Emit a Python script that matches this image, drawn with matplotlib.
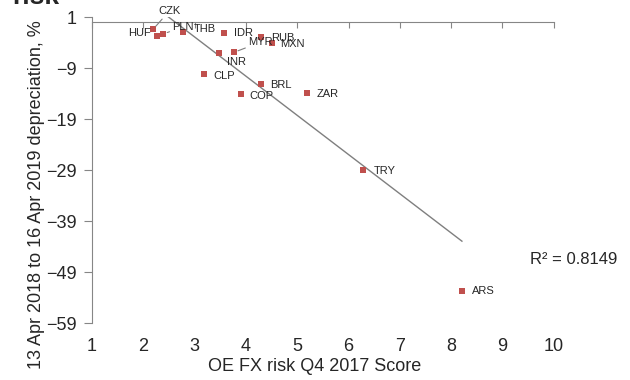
# FX depreciation vs OE FX risk score scatter with linear trend

import numpy as np
import matplotlib.pyplot as plt

plt.rcParams['font.family'] = ['Liberation Sans', 'DejaVu Sans']

currencies = ['HUF', 'CZK', 'PLN', 'THB', 'IDR', 'RUB', 'MXN', 'MYR', 'INR',
              'CLP', 'BRL', 'COP', 'ZAR', 'TRY', 'ARS']
risk_score = [2.27, 2.19, 2.39, 2.78, 3.58, 4.30, 4.50, 3.77, 3.48,
              3.19, 4.30, 3.91, 5.20, 6.29, 8.21]
depreciation = [-2.7, -1.4, -2.3, -1.9, -2.2, -2.9, -4.1, -5.9, -6.1,
                -10.2, -12.1, -14.1, -13.9, -29.0, -52.7]
r_squared = 0.8149

x_ticks = list(range(1, 11))
y_ticks = list(range(1, -60, -10))

# label offsets in pixels: (dx, dy, ha, leader)
label_pos = {
    'HUF': (-6, 3, 'right', False),
    'CZK': (16, 18, 'center', True),
    'PLN': (9, 7, 'left', True),
    'THB': (10, 3, 'left', False),
    'IDR': (10, 0, 'left', False),
    'RUB': (10, -1, 'left', False),
    'MXN': (9, -1, 'left', False),
    'MYR': (14, 10, 'left', True),
    'INR': (8, -9, 'left', False),
    'CLP': (9, -2, 'left', False),
    'BRL': (9, -1, 'left', False),
    'COP': (8, -2, 'left', False),
    'ZAR': (9, -1, 'left', False),
    'TRY': (10, -1, 'left', False),
    'ARS': (10, 0, 'left', False),
}

text_col = '#262626'
axis_col = '#868686'

fig = plt.figure(figsize=(6.3, 3.8), dpi=100)
ax = fig.add_axes([0.146, 0.15, 0.733, 0.805])

x = np.array(risk_score)
y = np.array(depreciation)
slope, intercept = np.polyfit(x, y, 1)
xs = np.array([x.min(), x.max()])
ax.plot(xs, slope * xs + intercept, color='#7f7f7f', lw=1.0, zorder=2)

ax.scatter(x, y, marker='s', s=22, color='#c0504d', zorder=3, linewidths=0)

for name, xi, yi in zip(currencies, risk_score, depreciation):
    dx, dy, ha, leader = label_pos[name]
    arrow = dict(arrowstyle='-', color='#7f7f7f', lw=0.8, shrinkA=0, shrinkB=3) if leader else None
    ax.annotate(name, (xi, yi), xytext=(dx, dy), textcoords='offset pixels',
                ha=ha, va='center', fontsize=8, color=text_col,
                arrowprops=arrow, annotation_clip=False, zorder=4)

ax.text(9.53, -46.6, f'R² = {r_squared}', fontsize=12, color=text_col,
        ha='left', va='center', clip_on=False)

ax.set_xlim(1, 10)
ax.set_ylim(-59, 1)
ax.set_xticks(x_ticks)
ax.set_yticks(y_ticks)

for side in ['right', 'bottom']:
    ax.spines[side].set_visible(False)
ax.spines['top'].set_position(('data', 0))
ax.spines['top'].set_color(axis_col)
ax.spines['left'].set_color(axis_col)

ax.tick_params(axis='x', top=True, bottom=False, labeltop=False, labelbottom=True,
               direction='in', length=4, color=axis_col, labelsize=13,
               labelcolor=text_col, pad=11)
ax.tick_params(axis='y', direction='out', length=6, color=axis_col, labelsize=13,
               labelcolor=text_col, pad=5)

ax.set_xlabel('OE FX risk Q4 2017 Score', fontsize=13, color=text_col)
ax.xaxis.set_label_coords(0.483, -0.113)
ax.set_ylabel('13 Apr 2018 to 16 Apr 2019 depreciation, %', fontsize=13, color=text_col)
ax.yaxis.set_label_coords(-0.102, 0.42)

fig.text(0.02, 0.99, 'risk', fontsize=19, fontweight='bold', color=text_col, va='baseline')

fig.savefig('out.png', dpi=100)
